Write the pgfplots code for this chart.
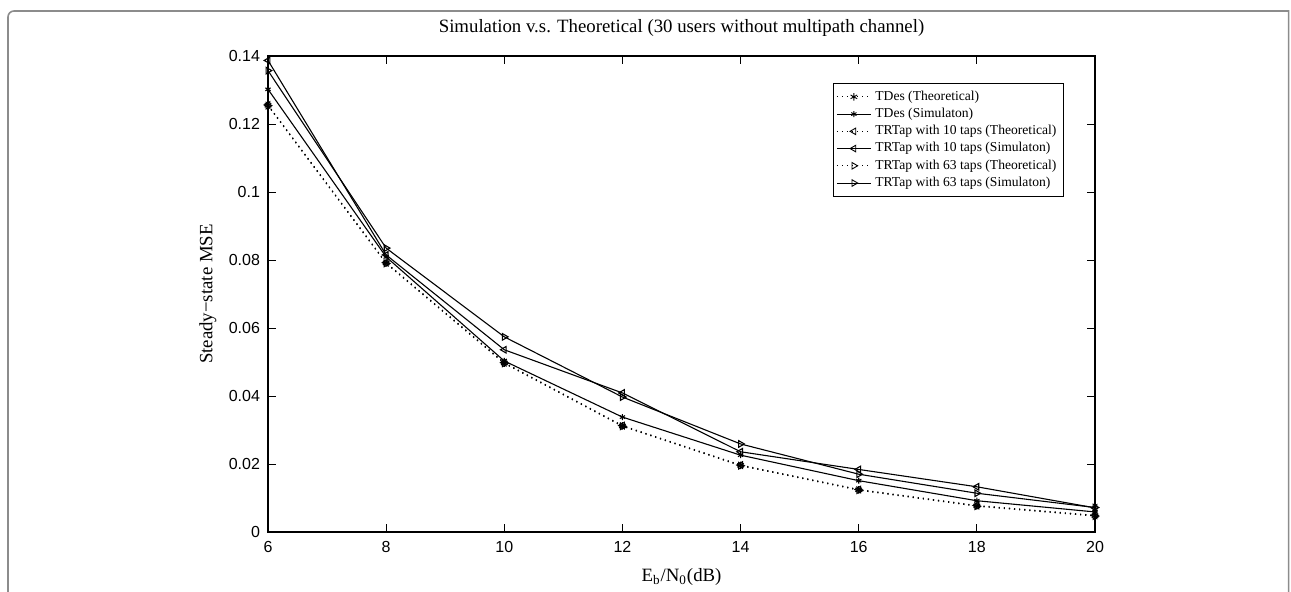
\documentclass[border=0pt]{standalone}
\usepackage{fontspec}
\setmainfont{Liberation Serif}
\newfontfamily\ticksf{Liberation Sans}
\usepackage{pgfplots}
\pgfplotsset{compat=1.18}
\begin{document}
\begin{tikzpicture}
\useasboundingbox (0,0) rectangle (645.5pt,295.5pt);
\draw[line width=0.8pt, color=black!45] (4pt,-5pt) -- (4pt,287pt) arc[start angle=180,end angle=90,radius=3pt] -- (644.3pt,290pt) -- (644.3pt,-5pt);
\begin{axis}[
  at={(134pt,29.5pt)}, anchor=south west,
  scale only axis, width=413.5pt, height=238pt,
  xmin=6, xmax=20, ymin=0, ymax=0.14,
  xtick={6,8,10,12,14,16,18,20},
  xticklabels={6,8,10,12,14,16,18,20},
  ytick={0,0.02,0.04,0.06,0.08,0.1,0.12,0.14},
  yticklabels={0,0.02,0.04,0.06,0.08,0.1,0.12,0.14},
  tick align=inside, major tick length=4pt,
  every tick/.style={black, line width=0.5pt},
  axis line style={line width=0.7pt},
  ticklabel style={font=\ticksf\fontsize{8}{9}\selectfont},
  xticklabel style={yshift=-1pt},
  yticklabel style={xshift=-0.5pt},
  title={Simulation v.s. Theoretical (30 users without multipath channel)},
  title style={font=\fontsize{9.4}{11}\selectfont, at={(axis description cs:0.5,1)}, anchor=center, yshift=8pt},
  xlabel={E\textsubscript{b}/N\textsubscript{0}(dB)},
  xlabel style={font=\fontsize{9.4}{11}\selectfont, at={(axis description cs:0.5,0)}, anchor=center, yshift=-22.5pt},
  ylabel={Steady−state MSE},
  ylabel style={font=\fontsize{9.4}{11}\selectfont, at={(axis description cs:0,0.5)}, anchor=center, yshift=30pt},
  legend style={at={(0.683,0.943)}, anchor=north west, font=\fontsize{6.8}{7.8}\selectfont,
    draw=black, line width=0.5pt, inner sep=1.5pt, row sep=-1.6pt, cells={anchor=west}},
  legend image post style={line width=0.45pt},
  every axis plot/.append style={line width=0.55pt, black},
  clip=false,
]
\addplot[dotted, mark=asterisk, mark size=1.9pt, mark options={solid}] coordinates {
(6,0.1255)(8,0.0791)(10,0.0497)(12,0.0312)(14,0.0196)(16,0.0124)(18,0.0077)(20,0.0048)};
\addlegendentry{TDes (Theoretical)}
\addplot[solid, mark=asterisk, mark size=1.5pt] coordinates {
(6,0.1302)(8,0.0809)(10,0.0503)(12,0.0338)(14,0.0226)(16,0.0151)(18,0.0092)(20,0.0059)};
\addlegendentry{TDes (Simulaton)}
\addplot[dotted, mark=triangle, mark size=1.9pt, mark options={solid, rotate=90}] coordinates {
(6,0.1256)(8,0.0792)(10,0.0498)(12,0.0313)(14,0.0197)(16,0.0125)(18,0.0078)(20,0.0049)};
\addlegendentry{TRTap with 10 taps (Theoretical)}
\addplot[solid, mark=triangle, mark size=1.9pt, mark options={solid, rotate=90}] coordinates {
(6,0.1387)(8,0.0815)(10,0.0536)(12,0.0409)(14,0.0236)(16,0.0184)(18,0.0133)(20,0.0071)};
\addlegendentry{TRTap with 10 taps (Simulaton)}
\addplot[dotted, mark=triangle, mark size=1.9pt, mark options={solid, rotate=-90}] coordinates {
(6,0.1254)(8,0.0790)(10,0.0496)(12,0.0311)(14,0.0195)(16,0.0123)(18,0.0076)(20,0.0047)};
\addlegendentry{TRTap with 63 taps (Theoretical)}
\addplot[solid, mark=triangle, mark size=1.9pt, mark options={solid, rotate=-90}] coordinates {
(6,0.1357)(8,0.0835)(10,0.0574)(12,0.0397)(14,0.0259)(16,0.0170)(18,0.0114)(20,0.0072)};
\addlegendentry{TRTap with 63 taps (Simulaton)}
\end{axis}
\end{tikzpicture}
\end{document}
